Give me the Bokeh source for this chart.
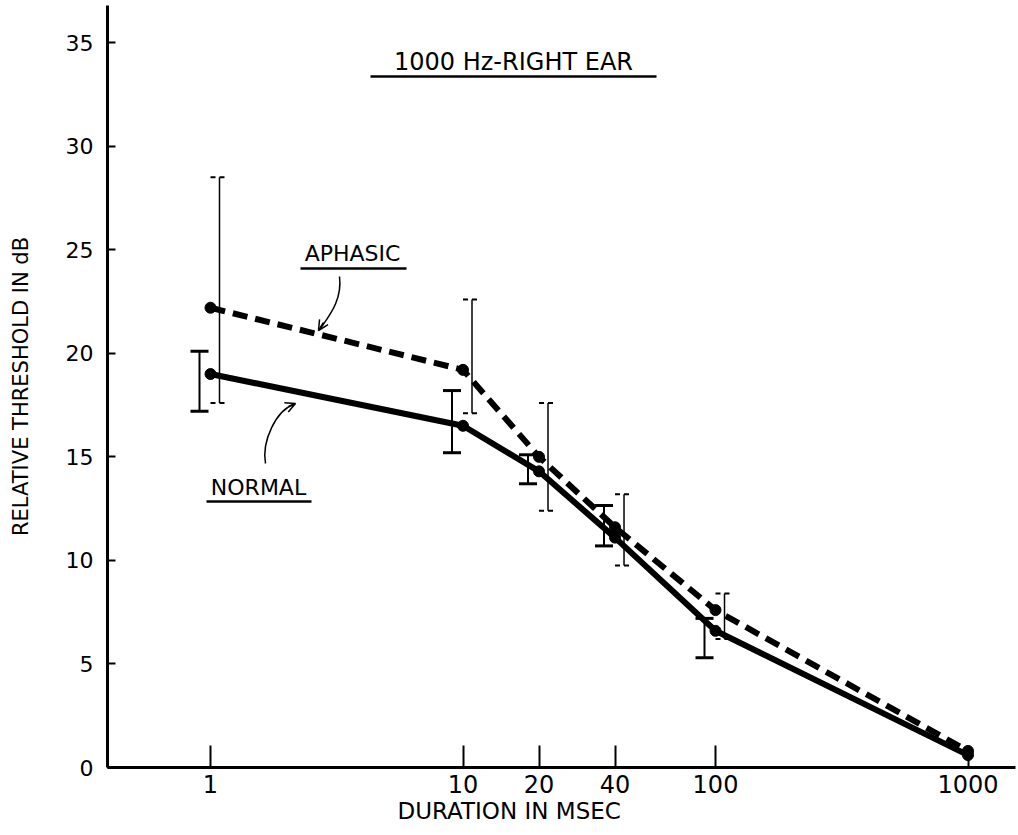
from bokeh.plotting import figure
from bokeh.models import Range1d, FixedTicker, Label, Arrow, OpenHead, Title
from bokeh.embed import file_html
from bokeh.resources import INLINE

# ---- data ----
durations = [1, 10, 20, 40, 100, 1000]
tick_labels = ["1", "10", "20", "40", "100", "1000"]

normal_mean = [19.0, 16.5, 14.3, 11.1, 6.6, 0.6]
aphasic_mean = [22.2, 19.2, 15.0, 11.6, 7.6, 0.8]

err_x = [1, 10, 20, 40, 100]
normal_lo = [17.2, 15.2, 13.7, 10.7, 5.3]
normal_hi = [20.1, 18.2, 15.1, 12.65, 7.2]
aphasic_lo = [17.6, 17.1, 12.4, 9.75, 6.2]
aphasic_hi = [28.5, 22.6, 17.6, 13.2, 8.4]

# ---- pixel <-> data helpers for annotation placement ----
X0PX, DEC, Y0PX, UNIT = 210.0, 252.5, 767.0, 20.71
def dx(px):
    return 10 ** ((px - X0PX) / DEC)
def dy(py):
    return (Y0PX - py) / UNIT

FONT = "DejaVu Sans"

p = figure(width=1018, height=835, x_axis_type="log",
           x_range=Range1d(dx(107), dx(1015)), y_range=Range1d(0, dy(5)),
           output_backend="svg", toolbar_location=None,
           min_border_left=107, min_border_right=3, min_border_top=5, min_border_bottom=68)
p.outline_line_color = None
p.xgrid.visible = False
p.ygrid.visible = False
p.background_fill_color = "white"
p.border_fill_color = "white"

# x axis
p.xaxis.ticker = FixedTicker(ticks=durations)
p.xaxis.major_label_overrides = {d: t for d, t in zip(durations, tick_labels)}
p.xaxis.minor_tick_line_color = None
p.xaxis.major_tick_in = 22
p.xaxis.major_tick_out = 0
p.xaxis.major_tick_line_width = 2
p.xaxis.major_tick_line_color = "black"
p.xaxis.axis_line_width = 3
p.xaxis.axis_line_color = "black"
p.xaxis.major_label_standoff = 7
p.xaxis.major_label_text_font = FONT
p.xaxis.major_label_text_font_size = "24px"
p.xaxis.major_label_text_color = "black"

# y axis
p.yaxis.ticker = FixedTicker(ticks=[0, 5, 10, 15, 20, 25, 30, 35])
p.yaxis.minor_tick_line_color = None
p.yaxis.major_tick_in = 8
p.yaxis.major_tick_out = 0
p.yaxis.major_tick_line_width = 2
p.yaxis.major_tick_line_color = "black"
p.yaxis.axis_line_width = 3
p.yaxis.axis_line_color = "black"
p.yaxis.major_label_standoff = 14
p.yaxis.major_label_text_font = FONT
p.yaxis.major_label_text_font_size = "22px"
p.yaxis.major_label_text_color = "black"
p.yaxis.axis_label = "RELATIVE THRESHOLD IN dB"
p.yaxis.axis_label_text_font = FONT
p.yaxis.axis_label_text_font_size = "21px"
p.yaxis.axis_label_text_font_style = "normal"
p.yaxis.axis_label_text_color = "black"
p.yaxis.axis_label_standoff = 30

# x axis title, shifted like the original (left of the frame centre)
p.add_layout(Title(text="DURATION IN MSEC", align="left", offset=290,
                   text_font=FONT, text_font_size="23px", text_font_style="normal",
                   text_color="black", standoff=0), "below")

# ---- error bars ----
n_off = 10 ** (-11 / DEC)
a_off = 10 ** (9 / DEC)
nx = [x * n_off for x in err_x]
ax = [x * a_off for x in err_x]

p.segment(x0=nx, y0=normal_lo, x1=nx, y1=normal_hi, line_color="black", line_width=2)
p.scatter(x=nx + nx, y=normal_lo + normal_hi, marker="dash", size=18,
          line_color="black", line_width=3)
p.segment(x0=ax, y0=aphasic_lo, x1=ax, y1=aphasic_hi, line_color="black", line_width=1.5)
p.scatter(x=ax + ax, y=aphasic_lo + aphasic_hi, marker="dash", size=18,
          line_color="black", line_width=2, line_dash="5 4")

# ---- series ----
p.line(durations, aphasic_mean, line_color="black", line_width=6, line_dash="15 8")
p.scatter(durations, aphasic_mean, size=11, color="black")
p.line(durations, normal_mean, line_color="black", line_width=6)
p.scatter(durations, normal_mean, size=11, color="black")

# ---- title & series labels (underlined) ----
def add_text(txt, cx, cy, size="21px"):
    p.add_layout(Label(x=dx(cx), y=dy(cy), text=txt, text_align="center",
                       text_baseline="middle", text_font=FONT, text_font_size=size,
                       text_color="black"))

def underline(x0, x1, y):
    p.segment(x0=[dx(x0)], y0=[dy(y)], x1=[dx(x1)], y1=[dy(y)],
              line_color="black", line_width=2.5)

add_text("1000 Hz-RIGHT EAR", 513, 61, "24px")
underline(370, 656, 76)
add_text("APHASIC", 352, 253, "22px")
underline(300, 406, 268)
add_text("NORMAL", 258, 487, "22px")
underline(206, 311, 501)

# ---- curved arrows ----
p.bezier(x0=[dx(339)], y0=[dy(276)], x1=[dx(320)], y1=[dy(328)],
         cx0=[dx(342)], cy0=[dy(300)], cx1=[dx(328)], cy1=[dy(316)],
         line_color="black", line_width=1.5)
p.add_layout(Arrow(end=OpenHead(size=10, line_width=1.5, line_color="black"),
                   x_start=dx(323), y_start=dy(322), x_end=dx(318), y_end=dy(330),
                   line_color="black", line_width=1.5))

p.bezier(x0=[dx(265)], y0=[dy(463)], x1=[dx(293)], y1=[dy(404)],
         cx0=[dx(261)], cy0=[dy(440)], cx1=[dx(276)], cy1=[dy(410)],
         line_color="black", line_width=1.5)
p.add_layout(Arrow(end=OpenHead(size=10, line_width=1.5, line_color="black"),
                   x_start=dx(288), y_start=dy(406), x_end=dx(295), y_end=dy(403),
                   line_color="black", line_width=1.5))

open("out.html", "w").write(file_html(p, INLINE))
